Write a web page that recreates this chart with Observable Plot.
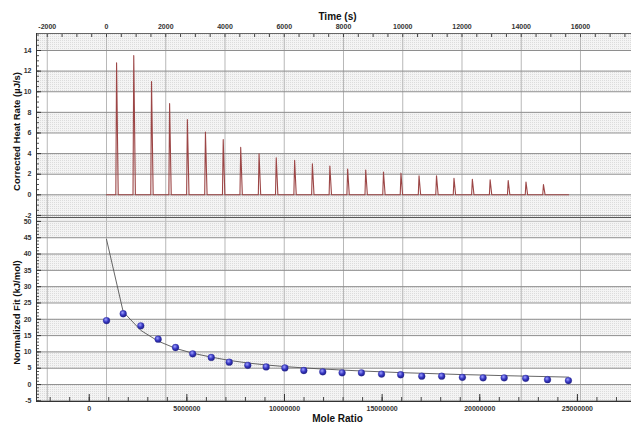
<!DOCTYPE html>
<html><head><meta charset="utf-8">
<script src="https://cdn.jsdelivr.net/npm/d3@7"></script>
<script src="https://cdn.jsdelivr.net/npm/@observablehq/plot@0.6"></script>
<style>
body{margin:0;background:#fff;}
#chart{width:632px;height:423px;}
#chart svg{display:block;}
</style></head><body><div id="chart"></div>
<script>
// ---- data ----
const peakTimes = [340, 920, 1520, 2130, 2730, 3340, 3940, 4530, 5150, 5730, 6350, 6950, 7540, 8140, 8750, 9350, 9940, 10550, 11140, 11730, 12350, 12950, 13560, 14160, 14750];
const peakHeights = [12.8, 13.5, 11.0, 8.85, 7.3, 6.1, 5.35, 4.6, 3.97, 3.6, 3.35, 3.0, 2.8, 2.5, 2.4, 2.2, 2.1, 1.85, 1.85, 1.6, 1.5, 1.45, 1.38, 1.25, 1.0];
const traceStart = 0, traceEnd = 15600;
const moleRatio = [0.886, 1.74, 2.64, 3.53, 4.42, 5.30, 6.25, 7.17, 8.12, 9.06, 10.02, 10.99, 11.96, 12.95, 13.94, 14.97, 15.95, 17.03, 18.05, 19.11, 20.17, 21.25, 22.35, 23.47, 24.54].map(d => d * 1e6);
const normalizedFit = [19.6, 21.7, 18.0, 13.9, 11.35, 9.4, 8.3, 6.85, 5.9, 5.4, 5.1, 4.3, 3.9, 3.6, 3.6, 3.2, 3.0, 2.55, 2.55, 2.2, 2.05, 2.05, 1.9, 1.5, 1.2];
const fitCurve = [44.5, 22.3, 16.6, 13.3, 11.1, 9.6, 8.4, 7.4, 6.6, 6.0, 5.5, 5.1, 4.75, 4.45, 4.15, 3.9, 3.65, 3.45, 3.25, 3.05, 2.9, 2.72, 2.57, 2.42, 2.27];
const timeTicks = [-2000, 0, 2000, 4000, 6000, 8000, 10000, 12000, 14000, 16000];
const heatTicks = [-2, 0, 2, 4, 6, 8, 10, 12, 14];
const ratioTicks = [0, 5000000, 10000000, 15000000, 20000000, 25000000];
const fitTicks = [-5, 0, 5, 10, 15, 20, 25, 30, 35, 40, 45, 50];
const titleTime = "Time (s)", titleHeat = "Corrected Heat Rate (µJ/s)";
const titleRatio = "Mole Ratio", titleFit = "Normalized Fit (kJ/mol)";

// ---- layout ----
const W = 632, mL = 36, mR = 1;
const topH = 217, topMT = 33, botH = 206, botMB = 22;
const innerW = W - mL - mR, topInnerH = topH - topMT, botInnerH = botH - botMB;
const timeDomain = [-2363, 17722], heatDomain = [-2.2, 15.65];
const ratioDomain = [-2.70e6, 27.77e6], fitDomain = [-5.2, 51.2];
const font = "'Liberation Sans', Arial, sans-serif";

function bands(ticks, dom) {
  const out = [];
  for (let i = 0; i < ticks.length; i += 2) {
    const y1 = i === 0 ? dom[0] : ticks[i];
    const y2 = i + 1 < ticks.length ? ticks[i + 1] : dom[1];
    out.push({y1, y2});
  }
  return out;
}
function addDefs(svg, id) {
  const defs = d3.select(svg).insert("defs", ":first-child");
  const p = defs.append("pattern").attr("id", id).attr("patternUnits", "userSpaceOnUse").attr("width", 2).attr("height", 2);
  p.append("rect").attr("width", 2).attr("height", 2).attr("fill", "#f4f4f4");
  p.append("rect").attr("width", 1).attr("height", 1).attr("fill", "#dcdcdc");
  const g = defs.append("radialGradient").attr("id", id + "ball").attr("cx", "40%").attr("cy", "35%").attr("r", "65%");
  g.append("stop").attr("offset", "0%").attr("stop-color", "#a0a2ff");
  g.append("stop").attr("offset", "55%").attr("stop-color", "#3838c4");
  g.append("stop").attr("offset", "100%").attr("stop-color", "#1e1e86");
}
const fmt = d => String(d);

// ---- trace table built from peak arrays ----
const trace = [{t: traceStart, v: 0}];
peakTimes.forEach((t, i) => {
  trace.push({t: t - 25, v: 0}, {t: t, v: peakHeights[i]}, {t: t + 55, v: 0});
});
trace.push({t: traceEnd, v: 0});

const timeMinor = d3.range(-2000, 17501, 500);
const heatMinor = d3.range(-2, 15.6, 0.5);

const topChart = Plot.plot({
  width: W, height: topH, marginTop: topMT, marginBottom: 0, marginLeft: mL, marginRight: mR,
  style: {fontFamily: font, background: "#fff", overflow: "visible"},
  x: {domain: timeDomain},
  y: {domain: heatDomain},
  marks: [
    Plot.rect(bands(heatTicks, heatDomain), {x1: () => timeDomain[0], x2: () => timeDomain[1], y1: "y1", y2: "y2", fill: "url(#dotsTop)"}),
    Plot.ruleX(timeTicks, {stroke: "#b8b8b8", strokeWidth: 1}),
    Plot.ruleY(heatTicks, {stroke: "#8e8e8e", strokeWidth: 1}),
    Plot.ruleX(timeMinor, {stroke: "#444", insetBottom: topInnerH - 4}),
    Plot.ruleY(heatMinor, {stroke: "#555", insetRight: innerW - 3}),
    Plot.ruleY(heatTicks, {stroke: "#333", insetRight: innerW - 5}),
    Plot.line(trace, {x: "t", y: "v", stroke: "#9c4646", strokeWidth: 1.1}),
    Plot.ruleY([heatDomain[1]], {stroke: "#666"}),
    Plot.ruleX([timeDomain[0]], {stroke: "#333"}),
    Plot.axisX({anchor: "top", ticks: timeTicks, tickSize: 0, tickPadding: 5, tickFormat: fmt, label: null, fontSize: 7, fontWeight: "bold", fill: "#333"}),
    Plot.axisY({ticks: heatTicks, tickSize: 0, tickPadding: 5, tickFormat: fmt, label: null, fontSize: 7, fontWeight: "bold", fill: "#333"}),
    Plot.text([titleTime], {frameAnchor: "top", lineAnchor: "middle", textAnchor: "middle", dy: -17, dx: 3.5, fontSize: 10, fontWeight: "bold", fill: "#111"}),
    Plot.text([titleHeat], {frameAnchor: "left", textAnchor: "middle", lineAnchor: "middle", rotate: -90, dx: -19.5, dy: 6, fontSize: 9.5, fontWeight: "bold", fill: "#111"})
  ]
});
addDefs(topChart, "dotsTop");

const t2r = d3.scaleLinear().domain(timeDomain).range(ratioDomain);
const ratioMinor = d3.range(-2e6, 27.5e6, 1e6);
const fitMinor = d3.range(-5, 51, 1);
const pts = moleRatio.map((m, i) => ({m, v: normalizedFit[i], f: fitCurve[i]}));

const botChart = Plot.plot({
  width: W, height: botH, marginTop: 0, marginBottom: botMB, marginLeft: mL, marginRight: mR,
  style: {fontFamily: font, background: "#fff", overflow: "visible"},
  x: {domain: ratioDomain},
  y: {domain: fitDomain},
  marks: [
    Plot.rect(bands(fitTicks, fitDomain), {x1: () => ratioDomain[0], x2: () => ratioDomain[1], y1: "y1", y2: "y2", fill: "url(#dotsBot)"}),
    Plot.rect([fitTicks[fitTicks.length - 1]], {x1: () => ratioDomain[0], x2: () => ratioDomain[1], y1: d => d, y2: () => fitDomain[1], fill: "#f0f0f0"}),
    Plot.ruleX(timeTicks.map(t2r), {stroke: "#b8b8b8", strokeWidth: 1}),
    Plot.ruleY(fitTicks.slice(0, -1), {stroke: "#8e8e8e", strokeWidth: 1}),
    Plot.ruleY(fitTicks.slice(-1), {stroke: "#c4c4c4", strokeWidth: 1}),
    Plot.ruleX(ratioMinor, {stroke: "#444", insetTop: botInnerH - 4}),
    Plot.ruleX(ratioTicks, {stroke: "#333", insetTop: botInnerH - 7}),
    Plot.ruleY(fitMinor, {stroke: "#555", insetRight: innerW - 3}),
    Plot.ruleY(fitTicks, {stroke: "#333", insetRight: innerW - 5}),
    Plot.line(pts, {x: "m", y: "f", stroke: "#555", strokeWidth: 0.9}),
    Plot.dot(pts, {x: "m", y: "v", r: 3.4, fill: "url(#dotsBotball)", stroke: "#2a2a90", strokeWidth: 0.3}),
    Plot.ruleY([fitDomain[1]], {stroke: "#555"}),
    Plot.ruleY([fitDomain[0]], {stroke: "#333"}),
    Plot.ruleX([ratioDomain[0]], {stroke: "#333"}),
    Plot.axisX({anchor: "bottom", ticks: ratioTicks, tickSize: 0, tickPadding: 5, tickFormat: fmt, label: null, fontSize: 7, fontWeight: "bold", fill: "#333"}),
    Plot.axisY({ticks: fitTicks, tickSize: 0, tickPadding: 5, tickFormat: fmt, label: null, fontSize: 7, fontWeight: "bold", fill: "#333"}),
    Plot.text([titleRatio], {frameAnchor: "bottom", lineAnchor: "middle", textAnchor: "middle", dy: 17, dx: 3.5, fontSize: 10, fontWeight: "bold", fill: "#111"}),
    Plot.text([titleFit], {frameAnchor: "left", textAnchor: "middle", lineAnchor: "middle", rotate: -90, dx: -19.5, dy: 3, fontSize: 9.5, fontWeight: "bold", fill: "#111"})
  ]
});
addDefs(botChart, "dotsBot");

const root = document.getElementById("chart");
root.append(topChart, botChart);
</script>
</body></html>
